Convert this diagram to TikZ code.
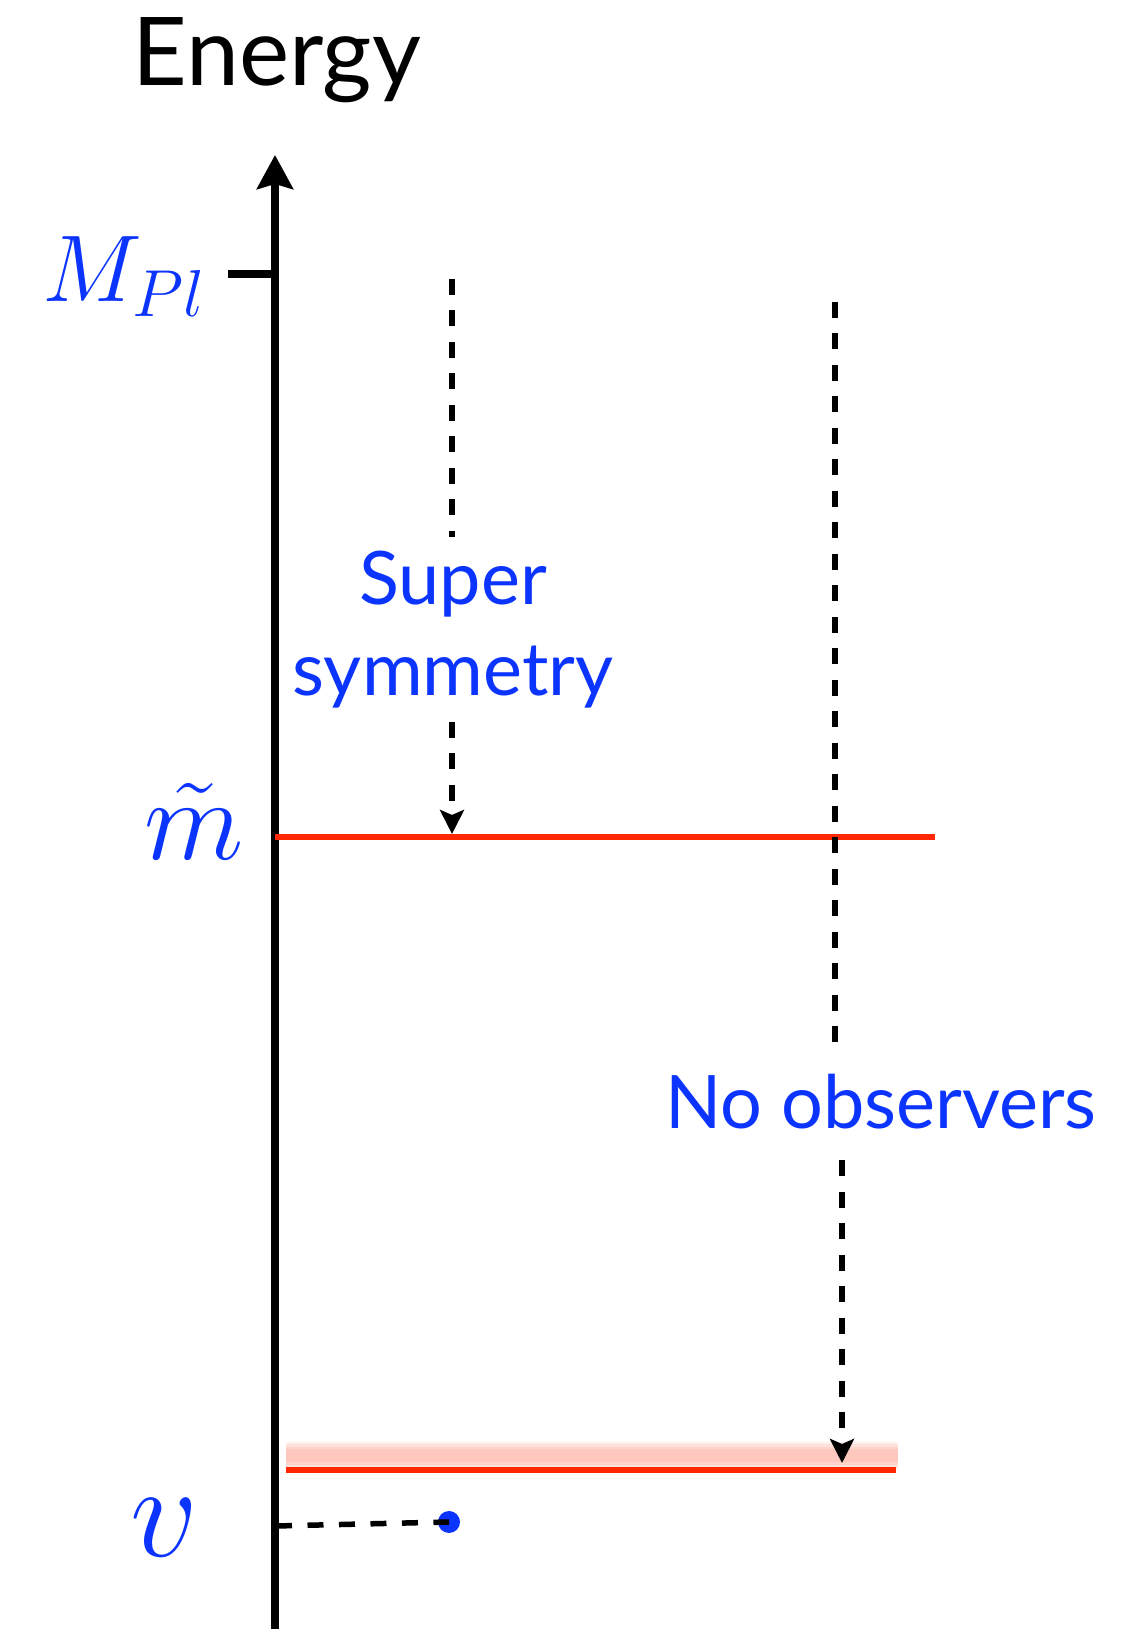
\RequirePackage{fix-cm}
\documentclass[tikz,border=0pt]{standalone}
\usepackage{fontspec}
\setsansfont{Lato}
\usepackage{amsmath}
\usetikzlibrary{arrows.meta, positioning}
\definecolor{labelblue}{RGB}{12,52,255}
\definecolor{levelred}{RGB}{255,40,0}

\begin{document}
\begin{tikzpicture}[
    >={Stealth[length=0.24cm, width=0.24cm, inset=0.05cm]},
    level/.style={levelred, line width=0.06cm},
    flow/.style={line width=0.055cm, dash pattern=on 0.16cm off 0.155cm},
    mathlab/.style={labelblue, inner sep=0pt, anchor=base east},
    words/.style={labelblue, font=\sffamily\fontsize{21}{26}\selectfont, align=center},
    dot/.style={circle, fill=labelblue, inner sep=0pt, minimum size=0.22cm}
  ]
  \useasboundingbox (0,0) rectangle (11.39,16.29);

  % ---- axis ----
  \coordinate (axbot) at (2.75,-0.1);
  \coordinate (axtop) at (2.75,14.74);
  \draw[line width=0.08cm, -{Stealth[length=0.34cm, width=0.36cm, inset=0.05cm]}] (axbot) -- (axtop);
  \node[font=\sffamily\fontsize{27}{32}\selectfont, anchor=base] (energy) at (2.77,15.43) {Energy};

  % Planck scale
  \coordinate (pltick) at (2.28,13.55);
  \draw[line width=0.08cm] (pltick) -- (pltick -| axtop);
  \node[mathlab, font=\fontsize{27}{32}\selectfont] (mpl) at (2.07,13.27) {$M_{Pl}$};

  % sparticle level
  \coordinate (mtl) at (2.75,7.92);
  \coordinate (mtr) at (9.35,7.92);
  \draw[level] (mtl) -- (mtr);
  \node[mathlab, font=\fontsize{33}{40}\selectfont] (mtilde) at (2.45,7.69) {$\tilde{m}$};

  % weak level, with its glow
  \coordinate (glowl) at (2.86,1.73);
  \coordinate (glowr) at (8.98,1.73);
  \foreach \w in {0.28,0.23,0.18,0.13}
    \draw[levelred, opacity=0.07, line width=\w cm] (glowl) -- (glowr);
  \coordinate (ewl) at (2.86,1.59);
  \coordinate (ewr) at (8.96,1.59);
  \draw[level] (ewl) -- (ewr);

  % vev
  \node[mathlab, font=\fontsize{38}{44}\selectfont] (vev) at (1.99,0.72) {$v$};
  \node[dot] (vdot) at (4.49,1.07) {};
  \coordinate (vtick) at (2.76,1.03);
  \draw[flow] (vtick) -- (vdot.center);

  % Supersymmetry
  \node[words, anchor=north, inner sep=0.13cm] (susy) at (4.53,10.92) {Super\\symmetry};
  \coordinate (susytop) at (4.52,13.50);
  \coordinate (susyend) at (4.52,7.95);
  \draw[flow] (susytop) -- (susytop |- susy.north);
  \draw[flow, ->] (susytop |- susy.south) -- (susyend);

  % No observers
  \node[words, anchor=base, inner sep=0.3cm] (noobs) at (8.81,5.00) {No observers};
  \coordinate (obstop) at (8.35,13.27);
  \coordinate (obsend) at (8.42,1.66);
  \draw[flow] (obstop) -- (obstop |- noobs.north);
  \draw[flow, ->] (obsend |- noobs.south) -- (obsend);
\end{tikzpicture}
\end{document}
